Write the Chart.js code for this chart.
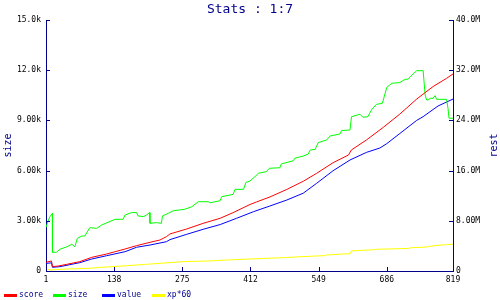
<!DOCTYPE html>
<html>
<head>
<meta charset="utf-8">
<script src="https://cdn.jsdelivr.net/npm/chart.js@4/dist/chart.umd.min.js"></script>
<style>
  html, body { margin: 0; padding: 0; background: #fff; }
  #wrap { position: relative; width: 500px; height: 300px; }
  #legend { position: absolute; left: 0; top: 290px; width: 500px; height: 10px;
            font: 8px 'DejaVu Sans Mono', monospace; color: #00008b; }
  #legend .item { position: absolute; top: 0; height: 10px; line-height: 10px; white-space: nowrap; }
  #legend .swatch { position: absolute; left: 0; top: 4px; width: 13px; height: 3px; }
  #legend .label { position: absolute; left: 15px; top: 0; }
</style>
</head>
<body>
<div id="wrap">
  <canvas id="chart" width="500" height="300"></canvas>
  <div id="legend"></div>
</div>
<script>
// ---- data (x = sample index, size in k, the rest in M) ----
const xTicks = [1, 138, 275, 412, 549, 686, 819];

const sizeX = [1,6,9,14,14,22,29,43,53,59,64,73,79,89,103,113,140,156,160,173,183,186,197,203,209,210,223,233,235,247,257,280,294,307,327,331,351,354,377,381,398,403,411,421,428,444,450,471,474,498,501,518,528,532,542,548,565,572,592,595,612,615,632,638,648,655,665,677,686,696,712,723,729,733,746,759,763,766,769,773,779,783,786,806,809,811,819];
const sizeK = [2.61,3.05,3.25,3.45,1.12,1.12,1.3,1.45,1.6,1.45,1.95,2.09,2.09,2.59,2.55,2.75,3.09,3.09,3.35,3.49,3.49,3.29,3.25,3.35,3.49,2.85,2.89,2.85,3.29,3.45,3.6,3.69,3.84,4.14,4.14,4.08,4.2,4.44,4.58,4.88,4.88,5.3,5.38,5.64,5.84,5.94,6.14,6.17,6.4,6.59,6.74,6.87,6.99,7.23,7.27,7.67,7.83,8.07,8.19,8.39,8.43,9.22,9.37,9.19,9.22,9.62,9.96,10.02,10.98,11.22,11.26,11.46,11.46,11.61,11.97,11.97,10.52,10.22,10.22,10.32,10.32,10.48,10.26,10.26,9.72,9.13,9.13];

const scoreX = [1,12,14,26,43,69,93,123,140,160,183,210,230,243,250,284,317,351,377,411,424,451,485,518,545,578,609,615,645,679,712,746,779,806,819];
const scoreM = [1.39,1.6,0.69,0.8,1.07,1.49,2.18,2.71,3.08,3.51,4.04,4.57,4.94,5.47,5.9,6.7,7.6,8.4,9.3,10.6,11.0,11.8,13.0,14.3,15.57,17.26,18.49,19.3,20.88,22.9,25.0,27.4,29.4,30.7,31.4];

const valueX = [1,12,14,29,69,93,123,160,183,210,243,250,284,317,351,384,418,451,485,518,545,578,612,645,672,686,712,746,759,789,819];
const valueM = [1.22,1.3,0.59,0.69,1.33,1.91,2.44,3.08,3.78,4.14,4.67,5.0,5.85,6.65,7.4,8.4,9.45,10.36,11.31,12.4,13.98,15.98,17.69,18.9,19.6,20.3,21.9,24.0,24.6,26.3,27.4];

const xpX = [1,9,43,89,113,156,203,230,277,327,364,411,485,518,562,565,595,612,615,662,665,729,733,763,783,806,819];
const xpM = [0.32,0.16,0.32,0.43,0.59,0.8,1.07,1.22,1.49,1.59,1.75,1.91,2.15,2.3,2.45,2.55,2.7,2.75,3.2,3.4,3.46,3.6,3.7,3.8,4.05,4.2,4.28];

const seriesNames = ['score', 'size', 'value', 'xp*60'];
const seriesColors = ['#ff0000', '#00ff00', '#0000ff', '#ffff00'];

// ---- styling ----
const navy = '#00008b';
const mono = "'DejaVu Sans Mono', monospace";
const pts = (xs, ys) => xs.map((x, i) => ({ x, y: ys[i] }));

function fmt(v, unit) {
  if (v === 0) return '0';
  return (v >= 10 ? v.toFixed(1) : v.toFixed(2)) + unit;
}

// small tick marks pointing into the plot, like the original
const innerTicks = {
  id: 'innerTicks',
  afterDraw(chart) {
    const { ctx, chartArea: a, scales } = chart;
    ctx.save();
    ctx.strokeStyle = navy;
    ctx.lineWidth = 1;
    ctx.beginPath();
    scales.x.ticks.forEach(t => {
      const px = Math.round(scales.x.getPixelForValue(t.value)) + 0.5;
      ctx.moveTo(px, a.bottom); ctx.lineTo(px, a.bottom - 4);
    });
    scales.y.ticks.forEach(t => {
      const py = Math.round(scales.y.getPixelForValue(t.value)) + 0.5;
      ctx.moveTo(a.left, py); ctx.lineTo(a.left + 4, py);
    });
    scales.y1.ticks.forEach(t => {
      const py = Math.round(scales.y1.getPixelForValue(t.value)) + 0.5;
      ctx.moveTo(a.right, py); ctx.lineTo(a.right - 4, py);
    });
    ctx.stroke();
    // right axis title reads bottom-to-top
    ctx.fillStyle = navy;
    ctx.font = '10px ' + mono;
    ctx.textAlign = 'center';
    ctx.textBaseline = 'middle';
    ctx.translate(494, (a.top + a.bottom) / 2);
    ctx.rotate(-Math.PI / 2);
    ctx.fillText('rest', 0, 0);
    ctx.restore();
  },
};

const line = (i, data, axis) => ({
  label: seriesNames[i], data, yAxisID: axis,
  borderColor: seriesColors[i], backgroundColor: seriesColors[i],
  borderWidth: 1, pointRadius: 0, tension: 0, fill: false,
});

new Chart(document.getElementById('chart'), {
  type: 'line',
  data: {
    datasets: [
      line(0, pts(scoreX, scoreM), 'y1'),
      line(1, pts(sizeX, sizeK), 'y'),
      line(2, pts(valueX, valueM), 'y1'),
      line(3, pts(xpX, xpM), 'y1'),
    ],
  },
  options: {
    responsive: false, animation: false, parsing: true,
    layout: { padding: { top: 0, bottom: 14, left: 0, right: 0 } },
    plugins: {
      legend: { display: false },
      tooltip: { enabled: false },
      title: { display: true, text: 'Stats : 1:7', color: navy,
               font: { family: mono, size: 13, weight: 'normal', lineHeight: '16px' },
               padding: { top: 2, bottom: 2 } },
    },
    scales: {
      x: {
        type: 'linear', min: 1, max: 819,
        afterBuildTicks: s => { s.ticks = xTicks.map(v => ({ value: v })); },
        afterFit: s => { s.height = 15; },
        grid: { display: true, drawOnChartArea: false, drawTicks: false },
        border: { color: navy, width: 1 },
        ticks: { color: '#000', font: { family: mono, size: 8 }, padding: 4, maxRotation: 0,
                 callback: v => String(v) },
      },
      y: {
        position: 'left', min: 0, max: 15,
        ticks: { stepSize: 3, color: '#000', font: { family: mono, size: 8 }, padding: 5,
                 callback: v => fmt(v, 'k') },
        afterFit: s => { s.width = 46; },
        grid: { display: true, drawOnChartArea: false, drawTicks: false },
        border: { color: navy, width: 1 },
        title: { display: true, text: 'size', color: navy, font: { family: mono, size: 10 },
                 padding: { top: 2, bottom: 0 } },
      },
      y1: {
        position: 'right', min: 0, max: 40,
        ticks: { stepSize: 8, color: '#000', font: { family: mono, size: 8 }, padding: 3,
                 callback: v => fmt(v, 'M') },
        afterFit: s => { s.width = 47; },
        grid: { display: true, drawOnChartArea: false, drawTicks: false },
        border: { color: navy, width: 1 },
      },
    },
  },
  plugins: [innerTicks],
});

// legend with fixed-width slots along the bottom
const legend = document.getElementById('legend');
const slots = [4, 53, 102, 152];
seriesNames.forEach((name, i) => {
  const item = document.createElement('div');
  item.className = 'item';
  item.style.left = slots[i] + 'px';
  item.innerHTML = '<span class="swatch" style="background:' + seriesColors[i] + '"></span>' +
                   '<span class="label"></span>';
  item.querySelector('.label').textContent = name;
  legend.appendChild(item);
});
</script>
</body>
</html>
